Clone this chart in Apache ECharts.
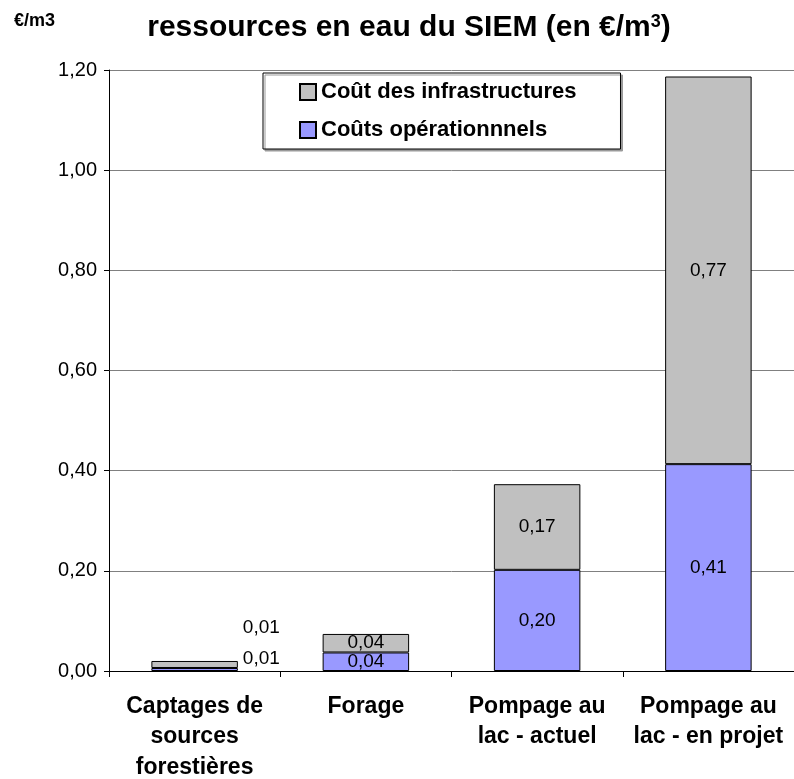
<!DOCTYPE html>
<html>
<head>
<meta charset="utf-8">
<script src="https://cdn.jsdelivr.net/npm/echarts@6/dist/echarts.min.js"></script>
<style>
html,body{margin:0;padding:0;background:#fff;}
#chart{width:794px;height:779px;}
</style>
</head>
<body>
<div id="chart"></div>
<script>
// ---- data ----
const categories = ['Captages de\nsources\nforestières', 'Forage', 'Pompage au\nlac - actuel', 'Pompage au\nlac - en projet'];
const seriesNames = ['Coût des infrastructures', 'Coûts opérationnnels'];
const operationalCosts = [0.006, 0.037, 0.202, 0.413];
const infrastructureCosts = [0.014, 0.037, 0.171, 0.774];
const yMin = 0, yMax = 1.2, yStep = 0.2;
const titleText = 'ressources en eau du SIEM (en €/m';
const unitText = '€/m3';

const FONT = '"Liberation Sans", Arial, sans-serif';
const fmt = v => v.toFixed(2).replace('.', ',');

const outsideLabels = {
  op: {position: 'right', distance: 5, offset: [0, -10.5]},
  inf: {position: 'right', distance: 5, offset: [0, -36.5]}
};

const opData = operationalCosts.map((v, i) => i === 0 ? {value: v, label: outsideLabels.op} : v);
const infData = infrastructureCosts.map((v, i) => i === 0 ? {value: v, label: outsideLabels.inf} : v);

const chart = echarts.init(document.getElementById('chart'), null, {renderer: 'canvas'});

const barLabel = {
  show: true,
  position: 'inside',
  color: '#000',
  fontFamily: FONT,
  fontSize: 19,
  formatter: p => fmt(p.value)
};

chart.setOption({
  animation: false,
  backgroundColor: '#fff',
  title: {
    text: '{t|' + titleText + '}{s|3}{t|)}',
    left: 404, textAlign: 'center',
    top: 8,
    textStyle: {
      rich: {
        t: {fontFamily: FONT, fontSize: 30, fontWeight: 'bold', color: '#000'},
        s: {fontFamily: FONT, fontSize: 18, fontWeight: 'bold', color: '#000', verticalAlign: 'top'}
      }
    }
  },
  graphic: [{
    type: 'text', left: 14, top: 12,
    style: {text: unitText, font: 'bold 18px ' + FONT, fill: '#000'}
  }],
  legend: {
    orient: 'vertical',
    left: 263, top: 73,
    data: seriesNames,
    icon: 'rect',
    itemWidth: 16, itemHeight: 16,
    itemGap: 16,
    padding: [8, 44, 8, 36],
    borderColor: '#000', borderWidth: 1,
    backgroundColor: '#fff',
    shadowColor: '#999', shadowOffsetX: 2, shadowOffsetY: 2, shadowBlur: 0,
    textStyle: {fontFamily: FONT, fontSize: 22, fontWeight: 'bold', color: '#000'}
  },
  grid: {left: 109, top: 70, width: 685, height: 601, containLabel: false, outerBoundsMode: 'none'},
  xAxis: {
    type: 'category',
    data: categories,
    axisLine: {lineStyle: {color: '#000', width: 1}},
    axisTick: {show: true, length: 6, lineStyle: {color: '#000'}},
    axisLabel: {
      interval: 0, margin: 20, color: '#000',
      fontFamily: FONT, fontSize: 23, fontWeight: 'bold', lineHeight: 30.5, align: 'center'
    }
  },
  yAxis: {
    type: 'value',
    min: yMin, max: yMax, interval: yStep,
    axisLine: {show: true, lineStyle: {color: '#000', width: 1}},
    axisTick: {show: true, length: 5, lineStyle: {color: '#000'}},
    splitLine: {show: true, lineStyle: {color: '#808080', width: 1}},
    axisLabel: {
      margin: 12, color: '#000', fontFamily: FONT, fontSize: 20,
      formatter: v => fmt(v)
    }
  },
  series: [
    {
      name: seriesNames[1], type: 'bar', stack: 'total',
      data: opData,
      barCategoryGap: '49.5%',
      itemStyle: {color: '#9999FF', borderColor: '#000', borderWidth: 1},
      label: barLabel
    },
    {
      name: seriesNames[0], type: 'bar', stack: 'total',
      data: infData,
      barCategoryGap: '49.5%',
      itemStyle: {color: '#C0C0C0', borderColor: '#000', borderWidth: 1},
      label: barLabel
    }
  ]
});
</script>
</body>
</html>
